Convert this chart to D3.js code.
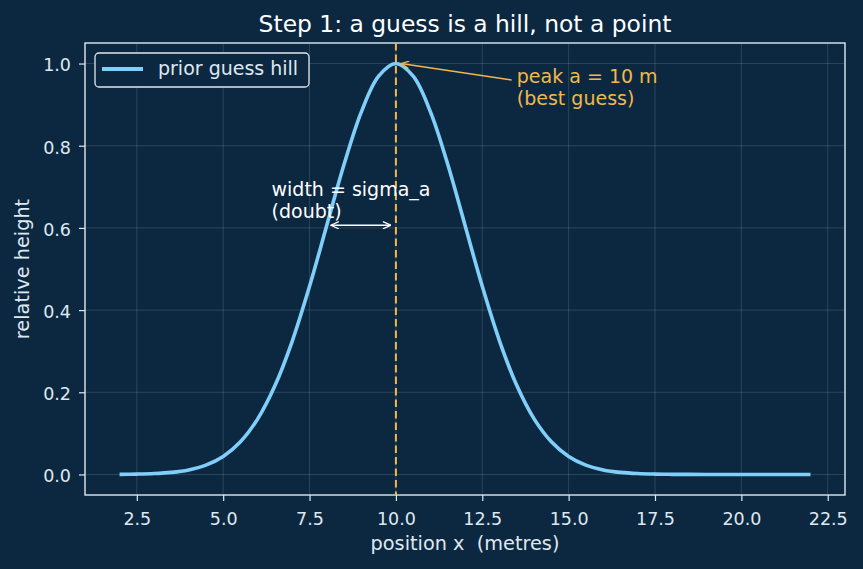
<!DOCTYPE html>
<html>
<head>
<meta charset="utf-8">
<script src="https://cdn.jsdelivr.net/npm/d3@7"></script>
<style>
  body { margin: 0; background: #0c2841; }
  text { font-family: "DejaVu Sans", sans-serif; white-space: pre; }
</style>
</head>
<body>
<div id="chart"></div>
<script>
// DATA
const xs = [2, 2.5, 3, 3.5, 4, 4.5, 5, 5.5, 6, 6.5, 7, 7.5, 8, 8.5, 9, 9.5, 10,
  10.5, 11, 11.5, 12, 12.5, 13, 13.5, 14, 14.5, 15, 15.5, 16, 16.5, 17, 17.5, 18,
  18.5, 19, 19.5, 20, 20.5, 21, 21.5, 22];
const hill = [0.0003, 0.0009, 0.0022, 0.0051, 0.0111, 0.0228, 0.0439, 0.0796, 0.1353,
  0.2163, 0.3247, 0.4578, 0.6065, 0.7548, 0.8825, 0.9692, 1.0,
  0.9692, 0.8825, 0.7548, 0.6065, 0.4578, 0.3247, 0.2163, 0.1353, 0.0796, 0.0439,
  0.0228, 0.0111, 0.0051, 0.0022, 0.0009, 0.0003, 0.0001, 0.0000, 0.0000, 0.0000,
  0.0000, 0.0000, 0.0000, 0.0000];
const xTicks = [2.5, 5.0, 7.5, 10.0, 12.5, 15.0, 17.5, 20.0, 22.5];
const yTicks = [0.0, 0.2, 0.4, 0.6, 0.8, 1.0];
const peakX = 10;
const sigmaA = 2;

const W = 863, H = 569;
const MARGIN = { top: 43, right: 18, bottom: 74, left: 85 };
const WIDTH = W - MARGIN.left - MARGIN.right;
const HEIGHT = H - MARGIN.top - MARGIN.bottom;

const BLUE = "#80cffa";
const ORANGE = "#f2b84b";
const FG = "#dfe8f0";

let svg = d3.select("#chart").append("svg")
  .attr("width", W).attr("height", H)
  .style("background", "#0c2841");

let g = svg.append("g").attr("transform", `translate(${MARGIN.left}, ${MARGIN.top})`);

let xScale = d3.scaleLinear().domain([1, 23]).range([0, WIDTH]);
let yScale = d3.scaleLinear().domain([-0.05, 1.05]).range([HEIGHT, 0]);

// GRID
g.append("g").selectAll("line").data(xTicks).enter().append("line")
  .attr("x1", d => xScale(d)).attr("x2", d => xScale(d))
  .attr("y1", 0).attr("y2", HEIGHT)
  .attr("stroke", "#ffffff").attr("stroke-opacity", 0.15).attr("stroke-width", 0.9);
g.append("g").selectAll("line").data(yTicks).enter().append("line")
  .attr("y1", d => yScale(d)).attr("y2", d => yScale(d))
  .attr("x1", 0).attr("x2", WIDTH)
  .attr("stroke", "#ffffff").attr("stroke-opacity", 0.15).attr("stroke-width", 0.9);

// AXES
let xAxis = g.append("g").attr("transform", `translate(0, ${HEIGHT})`)
  .call(d3.axisBottom(xScale).tickValues(xTicks).tickFormat(d3.format(".1f")).tickSize(6).tickPadding(8));
let yAxis = g.append("g")
  .call(d3.axisLeft(yScale).tickValues(yTicks).tickFormat(d3.format(".1f")).tickSize(6).tickPadding(8));
[xAxis, yAxis].forEach(a => {
  a.select(".domain").remove();
  a.selectAll("line").attr("stroke", FG).attr("stroke-width", 1.2);
  a.selectAll("text").attr("fill", FG).style("font-size", "17.5px");
});
xAxis.selectAll("text").attr("dy", null).attr("y", 30);
yAxis.selectAll("text").attr("dy", "0.42em");

// spines
g.append("rect").attr("width", WIDTH).attr("height", HEIGHT)
  .attr("fill", "none").attr("stroke", FG).attr("stroke-width", 1.4);

// VERTICAL DASHED LINE AT PEAK
g.append("line")
  .attr("x1", xScale(peakX)).attr("x2", xScale(peakX))
  .attr("y1", 0).attr("y2", HEIGHT)
  .attr("stroke", ORANGE).attr("stroke-width", 2).attr("stroke-dasharray", "7.5,4");

// CURVE
const line = d3.line()
  .x((d, i) => xScale(xs[i]))
  .y(d => yScale(d))
  .curve(d3.curveCatmullRom);
g.append("path").datum(hill)
  .attr("fill", "none").attr("stroke", BLUE).attr("stroke-width", 3.6)
  .attr("d", line);

// ARROW MARKERS
let defs = svg.append("defs");
function marker(id, color) {
  defs.append("marker").attr("id", id)
    .attr("viewBox", "0 0 10 10").attr("refX", 10).attr("refY", 5)
    .attr("markerWidth", 9).attr("markerHeight", 8).attr("orient", "auto-start-reverse")
    .attr("markerUnits", "userSpaceOnUse")
    .append("path").attr("d", "M0,0.5 L10,5 L0,9.5").attr("fill", "none")
    .attr("stroke", color).attr("stroke-width", 1.6);
}
marker("arrO", ORANGE);
marker("arrW", "#ffffff");

// PEAK ANNOTATION
g.append("line")
  .attr("x1", xScale(13.35)).attr("y1", yScale(0.96))
  .attr("x2", xScale(peakX) + 5).attr("y2", yScale(1.0))
  .attr("stroke", ORANGE).attr("stroke-width", 1.6).attr("marker-end", "url(#arrO)");
let peakText = g.append("text").attr("fill", ORANGE).style("font-size", "19px")
  .attr("x", xScale(13.5)).attr("y", 83 - MARGIN.top);
peakText.append("tspan").attr("x", xScale(13.5)).text("peak a = 10 m");
peakText.append("tspan").attr("x", xScale(13.5)).attr("dy", 21.5).text("(best guess)");

// WIDTH ANNOTATION
g.append("line")
  .attr("x1", xScale(peakX - sigmaA) + 4).attr("y1", yScale(hill[12]))
  .attr("x2", xScale(peakX) - 5).attr("y2", yScale(hill[12]))
  .attr("stroke", "#ffffff").attr("stroke-width", 1.6)
  .attr("marker-start", "url(#arrW)").attr("marker-end", "url(#arrW)");
let widthText = g.append("text").attr("fill", "#ffffff").style("font-size", "19px")
  .attr("x", xScale(6.4)).attr("y", 196 - MARGIN.top);
widthText.append("tspan").attr("x", xScale(6.4)).text("width = sigma_a");
widthText.append("tspan").attr("x", xScale(6.4)).attr("dy", 21.5).text("(doubt)");

// LEGEND
let legend = g.append("g").attr("transform", `translate(${95 - MARGIN.left}, ${53 - MARGIN.top})`);
legend.append("rect").attr("width", 214).attr("height", 34).attr("rx", 4)
  .attr("fill", "#0c2841").attr("stroke", FG).attr("stroke-width", 1.3);
legend.append("line").attr("x1", 7).attr("x2", 48).attr("y1", 16).attr("y2", 16)
  .attr("stroke", BLUE).attr("stroke-width", 3.8);
legend.append("text").attr("x", 63).attr("y", 22).attr("fill", FG)
  .style("font-size", "19px").text("prior guess hill");

// TITLE AND LABELS
svg.append("text").attr("x", MARGIN.left + WIDTH / 2).attr("y", 32)
  .attr("text-anchor", "middle").attr("fill", "#ffffff").style("font-size", "23.4px")
  .text("Step 1: a guess is a hill, not a point");
svg.append("text").attr("x", MARGIN.left + WIDTH / 2).attr("y", 550)
  .attr("text-anchor", "middle").attr("fill", FG).style("font-size", "19.3px")
  .text("position x  (metres)");
svg.append("text")
  .attr("transform", `translate(29, ${MARGIN.top + HEIGHT / 2}) rotate(-90)`)
  .attr("text-anchor", "middle").attr("fill", FG).style("font-size", "19.3px")
  .text("relative height");
</script>
</body>
</html>
